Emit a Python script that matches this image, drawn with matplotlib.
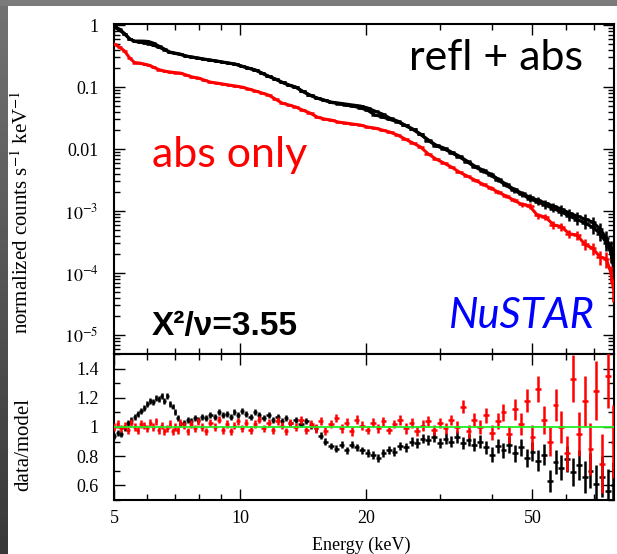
import numpy as np
import matplotlib
matplotlib.use('Agg')
import matplotlib.pyplot as plt
from matplotlib.patches import Rectangle
from matplotlib.ticker import FixedLocator, FixedFormatter, NullFormatter, LogLocator

plt.rcParams['font.family'] = ['Liberation Serif', 'DejaVu Serif']
plt.rcParams['mathtext.fontset'] = 'stix'

# --- unfolded spectra (counts s^-1 keV^-1) ---
spec_energy = [5.0, 5.15, 5.3, 5.45, 5.6, 5.75, 5.9, 6.05, 6.2, 6.4,
               6.6, 6.8, 7.0, 7.2, 7.45, 7.7, 7.95, 8.2, 8.5, 8.8,
               9.1, 9.4, 9.75, 10.1, 10.5, 10.9, 11.3, 11.7, 12.15, 12.6,
               13.1, 13.6, 14.1, 14.7, 15.3, 15.9, 16.5, 17.2, 17.9, 18.6,
               19.4, 20.2, 21.0, 21.9, 22.8, 23.8, 24.8, 25.9, 27.0, 28.2,
               29.4, 30.7, 32.0, 33.4, 34.9, 36.4, 38.0, 39.7, 41.4, 43.2,
               45.1, 47.1, 49.2, 51.4, 53.7, 56.1, 58.6, 61.2, 63.9, 66.7,
               69.6, 72.6, 75.0, 77.0, 78.0]

refl_obs1 = [0.929, 0.831, 0.716, 0.595, 0.552, 0.552, 0.550, 0.542, 0.513, 0.458,
             0.410, 0.367, 0.353, 0.340, 0.316, 0.305, 0.294, 0.283, 0.273, 0.263,
             0.253, 0.244, 0.235, 0.218, 0.202, 0.188, 0.168, 0.150, 0.135, 0.120,
             0.108, 0.100, 0.0861, 0.0743, 0.0665, 0.0617, 0.0573, 0.0552, 0.0532, 0.0513,
             0.0494, 0.0459, 0.0410, 0.0367, 0.0316, 0.0283, 0.0244, 0.0210, 0.0175, 0.0140,
             0.0116, 0.0104, 0.00895, 0.00771, 0.00640, 0.00532, 0.00459, 0.00395, 0.00328, 0.00272,
             0.00226, 0.00195, 0.00168, 0.00150, 0.00135, 0.00120, 0.00108, 0.000929, 0.000830, 0.000743,
             0.000665, 0.000513, 0.000367, 0.000253, 0.000150]

refl_obs2 = [0.960, 0.860, 0.730, 0.600, 0.545, 0.530, 0.515, 0.500, 0.475, 0.440,
             0.400, 0.362, 0.348, 0.336, 0.314, 0.302, 0.292, 0.281, 0.271, 0.262,
             0.251, 0.243, 0.233, 0.216, 0.200, 0.187, 0.166, 0.149, 0.134, 0.119,
             0.107, 0.099, 0.0852, 0.0735, 0.0660, 0.0610, 0.0565, 0.0540, 0.0515, 0.0492,
             0.0462, 0.0420, 0.0355, 0.0330, 0.0300, 0.0275, 0.0240, 0.0207, 0.0172, 0.0137,
             0.0113, 0.0101, 0.00870, 0.00750, 0.00622, 0.00515, 0.00443, 0.00380, 0.00315, 0.00261,
             0.00216, 0.00186, 0.00158, 0.00140, 0.00124, 0.00109, 0.00097, 0.00083, 0.00073, 0.00064,
             0.00055, 0.00043, 0.00031, 0.00021, 0.00013]

abs_only = [0.494, 0.442, 0.381, 0.294, 0.248, 0.244, 0.235, 0.226, 0.210, 0.191,
            0.181, 0.175, 0.171, 0.168, 0.156, 0.145, 0.140, 0.130, 0.120, 0.116,
            0.112, 0.108, 0.104, 0.100, 0.0929, 0.0861, 0.0800, 0.0743, 0.0640, 0.0552,
            0.0513, 0.0476, 0.0426, 0.0381, 0.0328, 0.0305, 0.0294, 0.0272, 0.0263, 0.0253,
            0.0244, 0.0226, 0.0218, 0.0202, 0.0188, 0.0168, 0.0145, 0.0125, 0.0108, 0.00830,
            0.00690, 0.00595, 0.00513, 0.00426, 0.00367, 0.00316, 0.00272, 0.00235, 0.00202, 0.00175,
            0.00150, 0.00128, 0.00121, 0.00085, 0.00080, 0.00060, 0.00056, 0.00043, 0.00041, 0.00029,
            0.00025, 0.00018, 0.00017, 0.00010, 0.000057]

spec_frac_err = [0.02, 0.02, 0.02, 0.02, 0.02, 0.02, 0.02, 0.02, 0.02, 0.02,
                 0.02, 0.02, 0.02, 0.02, 0.02, 0.02, 0.02, 0.02, 0.02, 0.02,
                 0.022, 0.022, 0.022, 0.022, 0.022, 0.022, 0.022, 0.022, 0.022, 0.022,
                 0.025, 0.025, 0.025, 0.025, 0.025, 0.025, 0.025, 0.025, 0.025, 0.025,
                 0.03, 0.03, 0.03, 0.03, 0.03, 0.032, 0.032, 0.032, 0.032, 0.032,
                 0.035, 0.038, 0.04, 0.045, 0.05, 0.055, 0.06, 0.065, 0.07, 0.075,
                 0.08, 0.09, 0.10, 0.11, 0.12, 0.13, 0.14, 0.16, 0.18, 0.20,
                 0.22, 0.25, 0.28, 0.32, 0.40]

# --- data/model ratios ---
ratio_energy = [5.0, 5.1, 5.2, 5.3, 5.4, 5.5, 5.6, 5.7, 5.8, 5.9,
                6.0, 6.1, 6.2, 6.3, 6.4, 6.5, 6.6, 6.7, 6.8, 6.9,
                7.0, 7.1, 7.2, 7.35, 7.5, 7.65, 7.8, 7.95, 8.1, 8.3,
                8.5, 8.7, 8.9, 9.1, 9.3, 9.5, 9.7, 9.9, 10.1, 10.35,
                10.6, 10.85, 11.1, 11.4, 11.7, 12.0, 12.3, 12.6, 12.9, 13.2,
                13.6, 14.0, 14.4, 14.8, 15.2, 15.6, 16.0, 16.5, 17.0, 17.5,
                18.0, 18.5, 19.0, 19.6, 20.2, 20.8, 21.4, 22.0, 22.7, 23.4,
                24.1, 24.9, 25.7, 26.5, 27.3, 28.2, 29.1, 30.0, 31.0, 32.0,
                33.0, 34.1, 35.2, 36.3, 37.5, 38.7, 40.0, 41.3, 42.6, 44.0,
                45.4, 46.9, 48.4, 50.0, 51.6, 53.3, 55.0, 56.8, 58.6, 60.5,
                62.5, 64.5, 66.6, 68.8, 71.0, 73.3, 75.7, 78.0]

ratio_refl = [0.94, 0.96, 0.95, 0.99, 1.03, 1.05, 1.07, 1.09, 1.11, 1.13,
              1.16, 1.18, 1.17, 1.20, 1.19, 1.21, 1.18, 1.21, 1.16, 1.14,
              1.10, 1.06, 1.02, 1.03, 1.05, 1.04, 1.06, 1.05, 1.07, 1.06,
              1.08, 1.07, 1.10, 1.08, 1.09, 1.07, 1.10, 1.08, 1.11, 1.09,
              1.07, 1.10, 1.08, 1.06, 1.08, 1.05, 1.07, 1.04, 1.06, 1.03,
              1.05, 1.02, 1.04, 1.01, 0.99, 0.94, 0.90, 0.87, 0.85, 0.88,
              0.84, 0.88, 0.86, 0.84, 0.82, 0.81, 0.79, 0.82, 0.84, 0.83,
              0.87, 0.86, 0.90, 0.89, 0.92, 0.91, 0.93, 0.89, 0.92, 0.90,
              0.93, 0.89, 0.91, 0.88, 0.90, 0.86, 0.81, 0.87, 0.84, 0.88,
              0.82, 0.86, 0.79, 0.83, 0.77, 0.81, 0.63, 0.76, 0.72, 0.78,
              0.69, 0.74, 0.66, 0.70, 0.61, 0.66, 0.56, 0.60]

ratio_refl_err = [0.02, 0.02, 0.02, 0.02, 0.02, 0.02, 0.02, 0.02, 0.02, 0.02,
                  0.02, 0.02, 0.02, 0.02, 0.02, 0.02, 0.02, 0.02, 0.02, 0.02,
                  0.02, 0.02, 0.02, 0.02, 0.02, 0.02, 0.02, 0.02, 0.02, 0.02,
                  0.02, 0.02, 0.02, 0.02, 0.02, 0.02, 0.02, 0.02, 0.02, 0.02,
                  0.021, 0.021, 0.021, 0.021, 0.021, 0.021, 0.021, 0.021, 0.021, 0.021,
                  0.021, 0.021, 0.022, 0.022, 0.022, 0.023, 0.023, 0.023, 0.024, 0.024,
                  0.024, 0.025, 0.025, 0.026, 0.026, 0.027, 0.027, 0.028, 0.028, 0.030,
                  0.030, 0.030, 0.032, 0.032, 0.033, 0.034, 0.035, 0.036, 0.037, 0.038,
                  0.040, 0.041, 0.042, 0.043, 0.045, 0.047, 0.050, 0.050, 0.052, 0.055,
                  0.057, 0.060, 0.062, 0.065, 0.070, 0.072, 0.075, 0.080, 0.085, 0.090,
                  0.095, 0.10, 0.11, 0.12, 0.13, 0.14, 0.15, 0.16]

ratio_abs = [1.00, 1.02, 0.99, 1.01, 0.98, 1.03, 1.00, 0.98, 1.02, 1.01,
             0.99, 1.03, 1.00, 1.04, 0.98, 1.01, 0.97, 0.99, 1.02, 0.97,
             1.00, 0.98, 1.03, 1.01, 0.97, 1.02, 0.99, 1.04, 1.00, 0.97,
             1.03, 1.00, 1.05, 0.98, 1.02, 0.97, 1.01, 1.04, 0.99, 1.03,
             0.98, 1.02, 1.05, 0.99, 1.03, 0.98, 1.04, 1.01, 0.97, 1.03,
             1.00, 1.05, 0.98, 1.02, 0.99, 1.04, 0.97, 1.02, 1.06, 0.99,
             1.03, 0.97, 1.05, 1.01, 0.98, 1.03, 0.99, 1.04, 0.98, 1.02,
             1.05, 0.99, 1.03, 0.97, 1.01, 1.04, 0.98, 1.03, 0.99, 1.05,
             1.00, 1.14, 0.97, 1.05, 1.00, 1.08, 0.96, 1.04, 1.10, 0.95,
             1.12, 1.02, 1.18, 0.93, 1.26, 1.05, 0.90, 1.15, 1.00, 0.82,
             1.33, 0.95, 1.18, 0.85, 1.25, 0.75, 1.35, 0.90]

ratio_abs_err = [0.025, 0.025, 0.025, 0.025, 0.025, 0.025, 0.025, 0.025, 0.025, 0.025,
                 0.025, 0.025, 0.025, 0.025, 0.025, 0.025, 0.025, 0.025, 0.025, 0.025,
                 0.025, 0.025, 0.025, 0.025, 0.025, 0.025, 0.025, 0.025, 0.025, 0.025,
                 0.025, 0.025, 0.025, 0.025, 0.025, 0.025, 0.025, 0.025, 0.025, 0.025,
                 0.026, 0.026, 0.026, 0.026, 0.026, 0.026, 0.026, 0.026, 0.026, 0.026,
                 0.028, 0.028, 0.028, 0.028, 0.028, 0.028, 0.028, 0.028, 0.028, 0.028,
                 0.030, 0.030, 0.030, 0.030, 0.030, 0.030, 0.030, 0.030, 0.030, 0.030,
                 0.035, 0.035, 0.035, 0.035, 0.035, 0.035, 0.035, 0.035, 0.035, 0.035,
                 0.040, 0.042, 0.044, 0.046, 0.048, 0.050, 0.052, 0.055, 0.058, 0.060,
                 0.070, 0.075, 0.080, 0.085, 0.090, 0.095, 0.10, 0.11, 0.11, 0.12,
                 0.16, 0.15, 0.17, 0.18, 0.20, 0.20, 0.22, 0.25]

x_major = [5, 10, 20, 50]
x_minor = [6, 7, 8, 9, 30, 40, 60, 70]
y_top_ticks = [1e-5, 1e-4, 1e-3, 0.01, 0.1, 1]
y_top_labels = ['$10^{-5}$', '$10^{-4}$', '$10^{-3}$', '0.01', '0.1', '1']
y_bot_ticks = [0.6, 0.8, 1.0, 1.2, 1.4]
y_bot_labels = ['0.6', '0.8', '1', '1.2', '1.4']


def bin_halfwidths(e):
    ''' half widths of log-spaced bins centred on e '''
    le = np.log10(np.asarray(e))
    mid = (le[1:] + le[:-1]) / 2
    lo = np.r_[2 * le[0] - mid[0], mid]
    hi = np.r_[mid, 2 * le[-1] - mid[-1]]
    return [10 ** le - 10 ** lo, 10 ** hi - 10 ** le]


fig = plt.figure(figsize=(6.17, 5.54), dpi=100)
fig.patch.set_facecolor('white')

# slide border (grey bar on top, dark strip on the left)
strip = fig.add_axes([0, 0, 8 / 617, 1])
strip.imshow(np.linspace(0.45, 0.22, 200)[:, None], cmap='gray', vmin=0, vmax=1, aspect='auto')
strip.axis('off')
fig.add_artist(Rectangle((0, 1 - 6 / 554), 1, 6 / 554, transform=fig.transFigure,
                         color='#7b7b7b', lw=0))

ax1 = fig.add_axes([114 / 617, 1 - 354 / 554, 500 / 617, 330 / 554])
ax2 = fig.add_axes([114 / 617, 1 - 500 / 554, 500 / 617, 146 / 554], sharex=ax1)

spec_xerr = bin_halfwidths(spec_energy)
frac = np.asarray(spec_frac_err)
for vals, col in [(refl_obs1, 'black'), (refl_obs2, 'black'), (abs_only, 'red')]:
    v = np.asarray(vals)
    ax1.plot(spec_energy, v, color=col, lw=2.2, zorder=3)
    ax1.errorbar(spec_energy, v, xerr=spec_xerr, yerr=v * frac, fmt='none',
                 ecolor=col, elinewidth=1.8, capsize=0, zorder=3)

ratio_xerr = bin_halfwidths(ratio_energy)
ax2.errorbar(ratio_energy, ratio_refl, xerr=ratio_xerr, yerr=ratio_refl_err, fmt='none',
             ecolor='black', elinewidth=1.8, capsize=0, zorder=3)
ax2.errorbar(ratio_energy, ratio_abs, xerr=ratio_xerr, yerr=ratio_abs_err, fmt='none',
             ecolor='red', elinewidth=1.8, capsize=0, zorder=4)
ax2.axhline(1.0, color='#22ee22', lw=1.3, zorder=5)

ax1.set_xscale('log')
ax1.set_yscale('log')
ax1.set_xlim(5, 78.3)
ax1.set_ylim(4.94e-6, 1.04)
ax2.set_ylim(0.5, 1.5)

for ax in (ax1, ax2):
    ax.xaxis.set_major_locator(FixedLocator(x_major))
    ax.xaxis.set_minor_locator(FixedLocator(x_minor))
    ax.xaxis.set_minor_formatter(NullFormatter())
    ax.tick_params(which='both', direction='in', top=True, right=True, labelsize=13, width=1)
    ax.tick_params(which='major', length=8)
    ax.tick_params(which='minor', length=4)
    ax.tick_params(axis='y', pad=11)
    ax.tick_params(axis='x', pad=7)
    for sp in ax.spines.values():
        sp.set_linewidth(1.5)

ax1.yaxis.set_major_locator(FixedLocator(y_top_ticks))
ax1.yaxis.set_major_formatter(FixedFormatter(y_top_labels))
ax1.yaxis.set_minor_locator(LogLocator(base=10, subs=np.arange(2, 10)))
ax1.yaxis.set_minor_formatter(NullFormatter())
ax1.tick_params(axis='x', labelbottom=False)

ax2.yaxis.set_major_locator(FixedLocator(y_bot_ticks))
ax2.yaxis.set_major_formatter(FixedFormatter(y_bot_labels))
ax2.yaxis.set_minor_locator(FixedLocator([0.5, 0.7, 0.9, 1.1, 1.3, 1.5]))
ax2.xaxis.set_major_formatter(FixedFormatter([str(v) for v in x_major]))

ax1.set_ylabel('normalized counts s$^{-1}$ keV$^{-1}$', fontsize=15)
ax1.yaxis.set_label_coords(-0.162, 0.43)
ax2.set_ylabel('data/model', fontsize=15)
ax2.yaxis.set_label_coords(-0.162, 0.38)
ax2.set_xlabel('Energy (keV)', fontsize=13)
ax2.xaxis.set_label_coords(0.494, -0.25)

ax1.text(0.764, 0.861, 'refl + abs', transform=ax1.transAxes, ha='center', va='baseline',
         fontsize=31, family='Lato', color='black')
ax1.text(0.232, 0.567, 'abs only', transform=ax1.transAxes, ha='center', va='baseline',
         fontsize=31, family='Lato', color='red')
ax1.text(0.076, 0.058, 'Χ²/ν=3.55', transform=ax1.transAxes, ha='left', va='baseline',
         fontsize=24, family='Liberation Sans', weight='bold', color='black')
ax1.text(0.815, 0.079, 'NuSTAR', transform=ax1.transAxes, ha='center', va='baseline',
         fontsize=30, family='Lato', style='italic', color='#0000ff')

fig.savefig('out.png', dpi=100)
